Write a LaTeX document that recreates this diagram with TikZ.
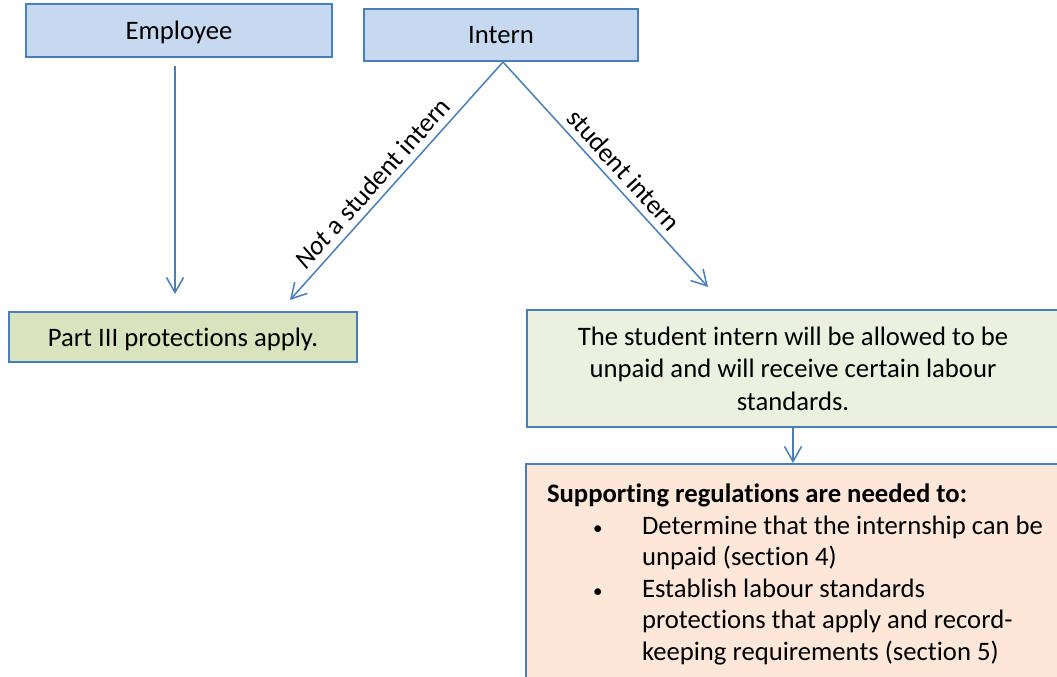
\documentclass[tikz,border=0pt]{standalone}
\usepackage{fontspec}
\setmainfont{Carlito}[Ligatures=NoCommon]
\usetikzlibrary{arrows.meta}

\definecolor{edgeblue}{HTML}{4A7EBB}
\definecolor{fillblue}{HTML}{C6D9F1}
\definecolor{filloliv}{HTML}{D7E4BD}
\definecolor{fillpale}{HTML}{EBF1DE}
\definecolor{fillpeach}{HTML}{FCE7D9}

% a smaller bullet for the list items
\newcommand{\listdot}{{\fontsize{19}{19}\selectfont\textbullet}}

\begin{document}
\begin{tikzpicture}[x=1pt,y=-1pt,
  font=\fontsize{26.67}{32.6}\selectfont,
  box/.style={draw=edgeblue, line width=2pt, rectangle, inner sep=0pt},
  link/.style={draw=edgeblue, line width=1.5pt,
    -{Straight Barb[length=15pt,width=17pt]}},
  lbl/.style={sloped, above, inner sep=6.5pt}]
\clip (0,0) rectangle (1057,677);
\fill[white] (0,0) rectangle (1057,677);

% top row
\node[box, fill=fillblue, minimum width=306pt, minimum height=53pt, text depth=0pt]
  (emp) at (179,30.5) {Employee};
\node[box, fill=fillblue, minimum width=274pt, minimum height=52pt]
  (intern) at (501,35) {Intern};

% outcomes
\node[box, fill=filloliv, minimum width=348pt, minimum height=50pt, text depth=0pt]
  (part) at (183,337) {Part III protections apply.};
\node[box, fill=fillpale, minimum width=532pt, minimum height=117pt, align=center]
  (stud) at (793,368.5)
  {The student intern will be allowed to be\\
   unpaid and will receive certain labour\\
   standards.};
\node[box, fill=fillpeach, anchor=north west, inner xsep=21pt, inner ysep=20pt,
  text width=520pt, align=flush left, font=\fontsize{26.67}{31.5}\selectfont]
  (supp) at (525,463)
  {\textbf{Supporting regulations are needed to:}\\
   \hspace*{46pt}\makebox[49pt][l]{\listdot}Determine that the internship can be\\
   \hspace*{95pt}unpaid (section 4)\\
   \hspace*{46pt}\makebox[49pt][l]{\listdot}Establish labour standards\\
   \hspace*{95pt}protections that apply and record-\\
   \hspace*{95pt}keeping requirements (section 5)};

% arrow tips that stop short of their boxes
\coordinate (tipL) at (290,300);
\coordinate (tipR) at (708,287);

% connectors
\draw[link, shorten <=8pt, shorten >=17pt]
  ([xshift=-4pt]emp.south) -- ([xshift=-4pt]emp.south |- part.north);
\draw[link] ([xshift=2pt]intern.south) --
  node[lbl, pos=0.555] {\textit{Not} a student intern} (tipL);
\draw[link] ([xshift=2pt]intern.south) --
  node[lbl, pos=0.53] {student intern} (tipR);
\draw[link] (stud.south) -- (stud.south |- supp.north);
\end{tikzpicture}
\end{document}
